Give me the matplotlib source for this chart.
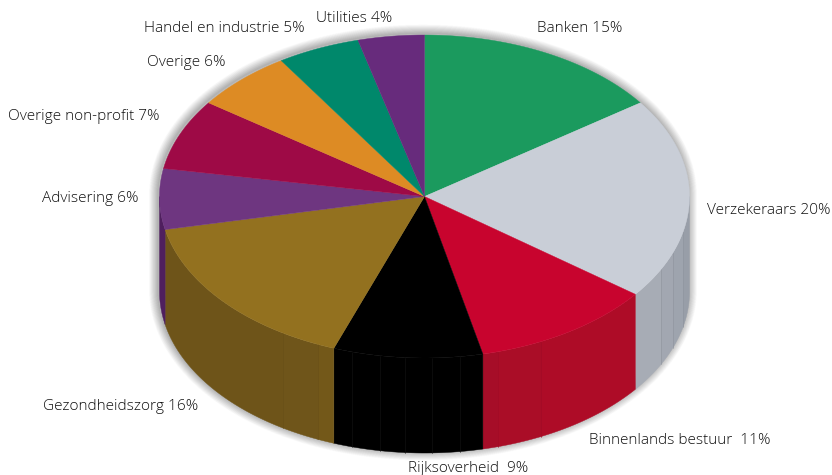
import numpy as np
import matplotlib
matplotlib.use("Agg")
import matplotlib.pyplot as plt

# Sector shares (percent), clockwise from twelve o'clock
sectors = ["Banken", "Verzekeraars", "Binnenlands bestuur", "Rijksoverheid",
           "Gezondheidszorg", "Advisering", "Overige non-profit", "Overige",
           "Handel en industrie", "Utilities"]
shares = [15, 20, 11, 9, 16, 6, 7, 6, 5, 4]
labels = ["Banken 15%", "Verzekeraars 20%", "Binnenlands bestuur  11%", "Rijksoverheid  9%",
          "Gezondheidszorg 16%", "Advisering 6%", "Overige non-profit 7%", "Overige 6%",
          "Handel en industrie 5%", "Utilities 4%"]
top_colors = ["#1B9A5E", "#C9CED7", "#C8042E", "#000000", "#93711F",
              "#6E3680", "#9E0A46", "#DD8B24", "#00886B", "#672B7C"]
wall_colors = ["#14744A", "#A7ACB5", "#AE0C27", "#000000", "#6E5419",
               "#4F1F5E", "#760835", "#A6691B", "#006650", "#4D205D"]

# Label anchors in pixels (left edge, vertical centre)
label_pos = [(537, 29), (707, 211), (589, 440), (408, 469), (43, 406),
             (42, 199), (8, 117), (147, 63), (144, 29), (316, 19)]

# Facets on the curved wall: sector index -> (right pixel of each facet, colour)
facets = {
    1: [(690, "#989EA8"), (683, "#9EA4AE"), (673, "#A2A7B1"), (661, "#A7ACB5")],
    2: [(636, "#AE0C27"), (541, "#AA0D27"), (498, "#A60D28")],
    3: [(484, "#000000"), (460, "#000000"), (432, "#000000"), (405, "#000000"),
        (380, "#000000"), (352, "#000000")],
    4: [(334, "#735819"), (318, "#6F551A"), (283, "#6E5419")],
}
facet_line = {1: "#8E939D", 2: "#A00B26", 3: "#141414", 4: "#684F18"}

CX, CY, RX, RY, DEPTH = 424.5, 196.5, 265.0, 161.5, 95.0


def rim(t):
    """Point on the top ellipse for a clockwise angle t (radians) from the top."""
    return CX + RX * np.sin(t), CY - RY * np.cos(t)


def angle_at(x):
    """Clockwise angle of the front rim point at horizontal pixel x."""
    return np.pi - np.arcsin(np.clip((x - CX) / RX, -1, 1))


fig = plt.figure(figsize=(8.32, 4.75), dpi=100)
ax = fig.add_axes([0, 0, 1, 1])
ax.set_xlim(0, 832)
ax.set_ylim(475, 0)
ax.axis("off")

# Soft shadow: many faint strokes around the disc outline, fading outwards
ts = np.linspace(0, 2 * np.pi, 721)
xo, yo = rim(ts)
yo = yo + np.where(np.cos(ts) < 0, DEPTH, 0)
for w in np.arange(13, 0, -0.5):
    ax.fill(xo - 1.5, yo - 1.5, facecolor="none", edgecolor="#000000",
            linewidth=w, alpha=0.011, joinstyle="round", zorder=1)

edges = np.cumsum([0] + shares) / sum(shares) * 2 * np.pi

# Curved wall, visible only along the front half of the rim
for i, color in enumerate(wall_colors):
    a = max(edges[i], np.pi / 2)
    b = min(edges[i + 1], 3 * np.pi / 2)
    if a >= b:
        continue
    bands = facets.get(i, [(rim(a)[0], color)])
    cuts = [angle_at(right) for right, _ in bands[1:]]
    limits = [a] + [c for c in cuts if a < c < b] + [b]
    for k in range(len(limits) - 1):
        shade = bands[k][1]
        t = np.linspace(limits[k], limits[k + 1], 60)
        x, y = rim(t)
        ax.fill(np.r_[x, x[::-1]], np.r_[y, y[::-1] + DEPTH], facecolor=shade,
                edgecolor=shade, linewidth=0.3, zorder=2)
        if k > 0 and i in facet_line:
            ax.plot([x[0], x[0]], [y[0], y[0] + DEPTH], color=facet_line[i],
                    linewidth=0.4, zorder=3)

# Top face
for i, color in enumerate(top_colors):
    t = np.linspace(edges[i], edges[i + 1], 120)
    x, y = rim(t)
    ax.fill(np.r_[CX, x], np.r_[CY, y], facecolor=color, edgecolor=color,
            linewidth=0.3, zorder=4)

for (x, y), text in zip(label_pos, labels):
    ax.text(x, y, text, ha="left", va="center", fontsize=11.1,
            family="Open Sans", fontweight="light", color="#111111", zorder=5)

fig.savefig("out.png", dpi=100)
